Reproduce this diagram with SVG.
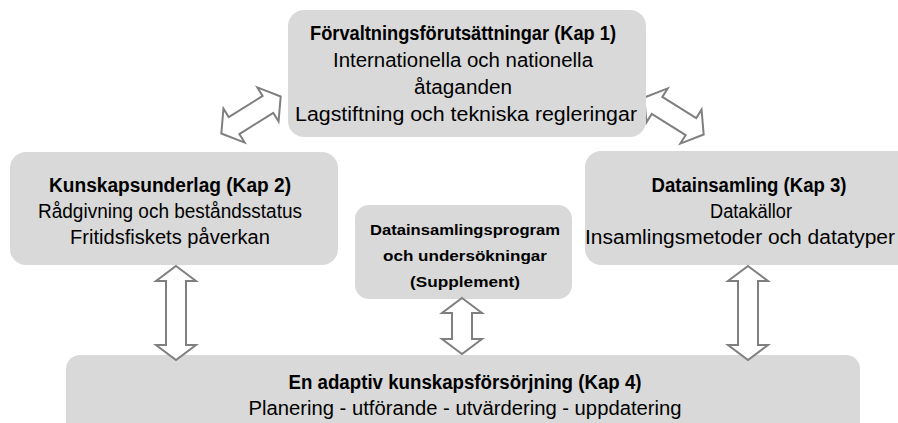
<svg xmlns="http://www.w3.org/2000/svg" width="898" height="423" viewBox="0 0 898 423">
<style>
.box{fill:#d9d9d9}
.arr{fill:#ffffff;stroke:#7f7f7f;stroke-width:2;stroke-linejoin:miter}
text{font-family:"Liberation Sans",Arial,sans-serif;fill:#000;text-anchor:middle}
.t{font-size:20px}
.b{font-size:20px;font-weight:bold}
.s{font-size:15.5px;font-weight:bold}
</style>
<defs>
<path id="diag" d="M-35,0 L-20,-20 L-20,-10 L20,-10 L20,-20 L35,0 L20,20 L20,10 L-20,10 L-20,20 Z"/>
</defs>
<rect width="898" height="423" fill="#ffffff"/>
<g id="connectors">
<use href="#diag" class="arr" transform="translate(251,115) rotate(-32)"/>
<use href="#diag" class="arr" transform="translate(674,116) rotate(32)"/>
</g>
<g id="kap1">
<rect class="box" x="288" y="10" width="358" height="127" rx="16"/>
<text class="b" x="463" y="40" textLength="306" lengthAdjust="spacingAndGlyphs">Förvaltningsförutsättningar (Kap 1)</text>
<text class="t" x="463" y="67" textLength="260" lengthAdjust="spacingAndGlyphs">Internationella och nationella</text>
<text class="t" x="463" y="94" textLength="98" lengthAdjust="spacingAndGlyphs">åtaganden</text>
<text class="t" x="466" y="121" textLength="342" lengthAdjust="spacingAndGlyphs">Lagstiftning och tekniska regleringar</text>
</g>
<g id="kap2">
<rect class="box" x="10" y="152" width="328" height="113" rx="16"/>
<text class="b" x="170" y="192" textLength="242" lengthAdjust="spacingAndGlyphs">Kunskapsunderlag (Kap 2)</text>
<text class="t" x="170" y="218" textLength="264" lengthAdjust="spacingAndGlyphs">Rådgivning och beståndsstatus</text>
<text class="t" x="170" y="244" textLength="200" lengthAdjust="spacingAndGlyphs">Fritidsfiskets påverkan</text>
</g>
<g id="kap3">
<rect class="box" x="585" y="151" width="330" height="114" rx="16"/>
<text class="b" x="749" y="192" textLength="195" lengthAdjust="spacingAndGlyphs">Datainsamling (Kap 3)</text>
<text class="t" x="751" y="218" textLength="82" lengthAdjust="spacingAndGlyphs">Datakällor</text>
<text class="t" x="740" y="244" textLength="310" lengthAdjust="spacingAndGlyphs">Insamlingsmetoder och datatyper</text>
</g>
<g id="supplement">
<rect class="box" x="355" y="205" width="217" height="94" rx="14"/>
<text class="s" x="465" y="235" textLength="190" lengthAdjust="spacingAndGlyphs">Datainsamlingsprogram</text>
<text class="s" x="465" y="261" textLength="164" lengthAdjust="spacingAndGlyphs">och undersökningar</text>
<text class="s" x="465" y="287" textLength="110" lengthAdjust="spacingAndGlyphs">(Supplement)</text>
</g>
<g id="kap4">
<rect class="box" x="66" y="355" width="794" height="90" rx="14"/>
<text class="b" x="465" y="389" textLength="353" lengthAdjust="spacingAndGlyphs">En adaptiv kunskapsförsörjning (Kap 4)</text>
<text class="t" x="465" y="415" textLength="433" lengthAdjust="spacingAndGlyphs">Planering - utförande - utvärdering - uppdatering</text>
</g>
<g id="connectors-vertical">
<path class="arr" d="M176,266 L196,281 L186,281 L186,345 L196,345 L176,360 L156,345 L166,345 L166,281 L156,281 Z"/>
<path class="arr" d="M462,298 L482,313 L472,313 L472,339 L482,339 L462,354 L442,339 L452,339 L452,313 L442,313 Z"/>
<path class="arr" d="M748,266 L768,281 L758,281 L758,345 L768,345 L748,360 L728,345 L738,345 L738,281 L728,281 Z"/>
</g>
</svg>
